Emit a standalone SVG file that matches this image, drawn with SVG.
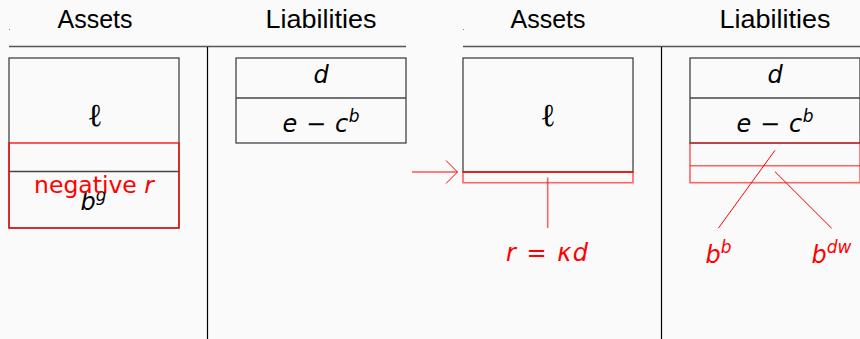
<svg xmlns="http://www.w3.org/2000/svg" width="860" height="339" viewBox="0 0 860 339">
<style>
.hd{font-family:"Liberation Sans",Arial,sans-serif;font-size:25px;fill:#000;text-anchor:middle}
.m{font-family:"DejaVu Sans",sans-serif;font-style:italic;font-size:24px;fill:#000;text-anchor:middle}
.ell{font-family:"Liberation Serif","DejaVu Serif",serif;font-size:32px;fill:#000;text-anchor:middle}
.neg{font-family:"DejaVu Sans",sans-serif;font-size:23.5px;fill:#ff0000;text-anchor:middle}
.red{fill:#ff0000}
.rule{stroke:#555;stroke-width:1.4;fill:none}
.vr{stroke:#000;stroke-width:1.2;fill:none}
.box{stroke:#444;stroke-width:1.3;fill:none}
.rbox{stroke:#ff0000;stroke-width:1.3;fill:none}
.rboxl{stroke:#ff0000;stroke-opacity:0.6;stroke-width:1.6;fill:none}
.rline{stroke:#ff0000;stroke-width:1;fill:none}
.sup{font-size:17px}
</style>
<rect x="0" y="0" width="860" height="339" fill="#fafafa"/>
<g id="left-panel">
  <rect x="9" y="29" width="1" height="1" fill="#888"/>
  <text class="hd" x="95" y="28.3">Assets</text>
  <text class="hd" x="321" y="28.3" textLength="111" lengthAdjust="spacingAndGlyphs">Liabilities</text>
  <line class="rule" x1="9" y1="46.5" x2="406" y2="46.5"/>
  <line class="vr" x1="207.5" y1="47" x2="207.5" y2="339"/>
</g>
<g id="left-assets">
  <rect class="box" x="9" y="58" width="170" height="170"/>
  <line class="box" x1="9" y1="171.5" x2="179" y2="171.5"/>
  <text class="ell" x="95" y="126">ℓ</text>
  <rect class="rbox" x="9" y="143" width="170" height="85"/>
  <text class="m" x="93.5" y="210">b<tspan class="sup" dy="-9">g</tspan></text>
  <text class="neg" x="94" y="192.5">negative <tspan font-style="italic">r</tspan></text>
</g>
<g id="left-liabilities">
  <rect class="box" x="236" y="58" width="170" height="85"/>
  <line class="box" x1="236" y1="98" x2="406" y2="98"/>
  <text class="m" x="321" y="83">d</text>
  <text class="m" x="321" y="131.5" textLength="77">e − c<tspan class="sup" dy="-10">b</tspan></text>
</g>
<g id="right-panel">
  <rect x="463" y="29" width="1" height="1" fill="#888"/>
  <text class="hd" x="548" y="28.3">Assets</text>
  <text class="hd" x="775" y="28.3" textLength="111" lengthAdjust="spacingAndGlyphs">Liabilities</text>
  <line class="rule" x1="463" y1="46.5" x2="860" y2="46.5"/>
  <line class="vr" x1="661.5" y1="47" x2="661.5" y2="339"/>
</g>
<g id="right-assets">
  <rect class="box" x="463" y="58" width="170" height="114"/>
  <text class="ell" x="548" y="126">ℓ</text>
  <rect class="rboxl" x="463" y="172" width="170" height="10.7"/>
  <line class="rline" x1="463" y1="172" x2="633" y2="172"/>
  <text class="m red" x="547" y="260.5" textLength="82">r = κd</text>
</g>
<g id="right-liabilities">
  <rect class="box" x="690" y="58" width="170" height="85"/>
  <line class="box" x1="690" y1="98" x2="860" y2="98"/>
  <text class="m" x="775" y="83">d</text>
  <text class="m" x="775" y="131.5" textLength="77">e − c<tspan class="sup" dy="-10">b</tspan></text>
  <rect class="rboxl" x="690" y="143" width="170" height="39.7"/>
  <line class="rboxl" x1="690" y1="165.8" x2="860" y2="165.8"/>
  <text class="m red" x="718.5" y="263">b<tspan class="sup" dy="-10">b</tspan></text>
  <text class="m red" x="831.5" y="263">b<tspan class="sup" dy="-10">dw</tspan></text>
</g>
<g id="connectors">
  <line class="rline" x1="412" y1="172" x2="457.5" y2="172"/>
  <polyline class="rline" points="446,160.5 457.5,172 446,183.5"/>
  <line class="rboxl" x1="547.7" y1="177.5" x2="547.7" y2="228"/>
  <line class="rline" x1="775" y1="150.3" x2="718.3" y2="228.3"/>
  <line class="rline" x1="775" y1="171.7" x2="831.7" y2="228.3"/>
</g>
</svg>
